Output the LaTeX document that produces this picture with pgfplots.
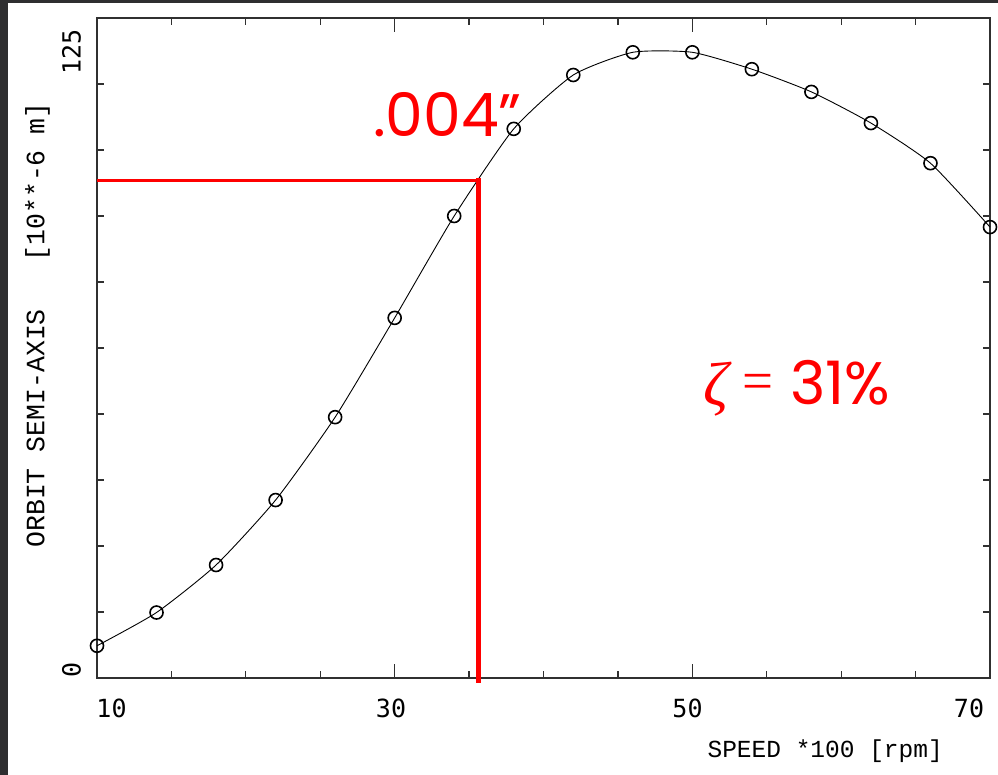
\documentclass[border=0pt]{standalone}
\usepackage{pgfplots}
\pgfplotsset{compat=1.18}
\usepackage{fontspec}
\setmainfont{Liberation Mono}
\newfontfamily\tickfont{DejaVu Sans Mono}
\newfontfamily\redfont{Poppins}
\newfontfamily\zfont{Liberation Serif}
\definecolor{bord}{HTML}{2E2E30}
\definecolor{axcol}{HTML}{303030}
\begin{document}
\begin{tikzpicture}
\fill[bord] (0pt,0pt) rectangle (998pt,775pt);
\fill[white] (8pt,0pt) rectangle (998pt,772pt);
\useasboundingbox (0pt,0pt) rectangle (998pt,775pt);
\begin{axis}[
  at={(97pt,97pt)}, anchor=south west,
  scale only axis, width=893pt, height=660pt,
  xmin=10, xmax=70, ymin=0, ymax=125,
  xtick={10,30,50,70},
  minor xtick={15,20,25,35,40,45,55,60,65},
  ytick={0,125},
  minor ytick={12.5,25,37.5,50,62.5,75,87.5,100,112.5},
  xticklabels={}, yticklabels={},
  tick align=inside,
  major tick length=14pt, minor tick length=7pt,
  every tick/.append style={axcol, line width=1.3pt},
  axis line style={axcol, line width=1.6pt},
  clip=false,
]
\addplot[black, line width=0.9pt, smooth, tension=0.35, mark=o, mark size=6.5pt,
  mark options={line width=1.6pt, solid}] coordinates {
  (10,6.1) (14,12.4) (18,21.4) (22,33.7) (26,49.4) (30,68.2)
  (34,87.5) (38,104.0) (42,114.2) (46,118.5) (50,118.5)
  (54,115.3) (58,111.0) (62,105.1) (66,97.5) (70,85.4)
};
\addplot[red, line width=3pt, no marks] coordinates {(10,94.3) (35.6,94.3)};
\addplot[red, line width=5pt, no marks] coordinates {(35.6,94.6) (35.6,-0.95)};
\end{axis}
% tick labels
\node[rotate=90, inner sep=0] at (71.5pt,105pt) {\tickfont\fontsize{25}{25}\selectfont 0};
\node[rotate=90, inner sep=0] at (71.5pt,723pt) {\tickfont\fontsize{25}{25}\selectfont 125};
\node[inner sep=0] at (111.5pt,67pt) {\tickfont\fontsize{25}{25}\selectfont 10};
\node[inner sep=0] at (391pt,67pt) {\tickfont\fontsize{25}{25}\selectfont 30};
\node[inner sep=0] at (687.5pt,67pt) {\tickfont\fontsize{25}{25}\selectfont 50};
\node[inner sep=0] at (969pt,67pt) {\tickfont\fontsize{25}{25}\selectfont 70};
% axis labels
\node[anchor=base east, inner sep=0] at (943pt,17pt) {\fontsize{24.5}{25}\selectfont SPEED *100 [rpm]};
\node[rotate=90, inner sep=0] at (37.5pt,450pt) {\fontsize{26.5}{27}\selectfont ORBIT SEMI-AXIS\ \ \ [10**-6 m]};
% annotations
\node[anchor=base west, inner sep=0, text=red] at (373pt,638pt) {\redfont\fontsize{60}{60}\selectfont .004”};
\node[anchor=base west, inner sep=0, text=red] at (703pt,369pt) {\zfont\itshape\fontsize{62}{62}\selectfont ζ};
\node[anchor=base west, inner sep=0, text=red] at (742pt,375pt) {\zfont\fontsize{55}{55}\selectfont =};
\node[anchor=base west, inner sep=0, text=red] at (790pt,370pt) {\redfont\fontsize{60}{60}\selectfont 31\%};
\end{tikzpicture}
\end{document}
